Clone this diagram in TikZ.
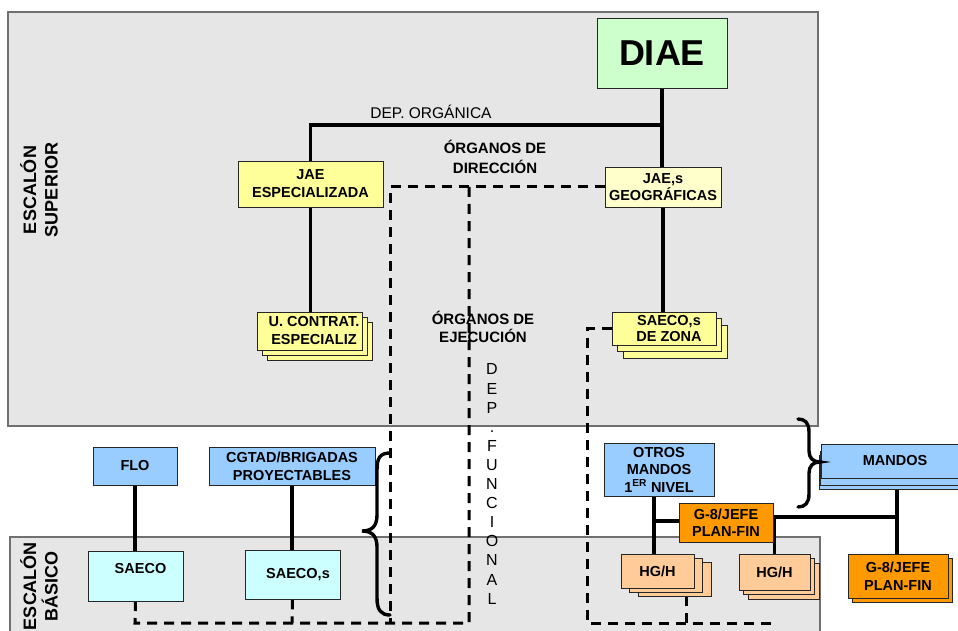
\documentclass[tikz,border=0pt]{standalone}
\usepackage{fontspec}
\setmainfont{Liberation Sans}
\usetikzlibrary{shadows,calc}
\pgfdeclarelayer{panels}
\pgfdeclarelayer{lines}
\pgfsetlayers{panels,lines,main}
\definecolor{panel}{HTML}{E6E6E6}
\definecolor{panelline}{HTML}{707070}
\definecolor{dgreen}{HTML}{CCFFCC}
\definecolor{yelA}{HTML}{FFFF99}
\definecolor{yelB}{HTML}{FFFFCC}
\definecolor{bluA}{HTML}{99CCFF}
\definecolor{cyanA}{HTML}{CCFFFF}
\definecolor{orgA}{HTML}{FF9900}
\definecolor{peachA}{HTML}{FFCC99}
\begin{document}
\begin{tikzpicture}[x=1pt,y=-1pt,
  box/.style={draw=black!85,line width=0.9pt,inner sep=0pt,align=center,
    font=\bfseries\fontsize{14.5}{17.5}\selectfont},
  shd/.style n args={3}{general shadow={fill=#1,draw=black!85,line width=0.9pt,shadow xshift=#2,shadow yshift=#3}},
  conn/.style={line width=3.8pt},
  dsh/.style={line width=3pt,dash pattern=on 10pt off 7pt},
  brc/.style={line width=3.4pt,line cap=round},
  lbl/.style={inner sep=0pt,align=center},
  inl/.style={lbl,font=\bfseries\fontsize{14.5}{17.5}\selectfont}]
\useasboundingbox (0,0) rectangle (958,631);
\clip (0,0) rectangle (958,631);

% panels
\begin{pgfonlayer}{panels}
\fill[white] (0,0) rectangle (958,631);
\draw[draw=panelline,line width=1.2pt,fill=panel] (8,12) rectangle (818,426);
\draw[draw=panelline,line width=1.2pt,fill=panel] (10,537) rectangle (820,660);
\end{pgfonlayer}

% coordinates
\coordinate (hj) at (662,125);
\coordinate (dA) at (390,187);
\coordinate (dAb) at (390,623);
\coordinate (dB) at (469,187);
\coordinate (dBb) at (469,623);
\coordinate (dL) at (135,623);
\coordinate (dS) at (292,623);
\coordinate (dR) at (587,331);
\coordinate (dRb) at (587,623);
\coordinate (dRe) at (775,623);
\coordinate (h1t) at (686,596);
\coordinate (h1b) at (686,623);
\coordinate (jm) at (897,517);

% nodes
\node[box,fill=dgreen,minimum width=130pt,minimum height=70pt,
  font=\bfseries\fontsize{36}{40}\selectfont] (diae) at (662,53) {DIAE};
\node[box,fill=yelA,minimum width=145pt,minimum height=46pt,
  font=\bfseries\fontsize{14.5}{18}\selectfont] (jaeesp) at (310.5,184) {JAE\\ESPECIALIZADA};
\node[box,fill=yelB,minimum width=116pt,minimum height=40pt,
  font=\bfseries\fontsize{14.5}{17}\selectfont] (jaegeo) at (663,187) {JAE,s\\GEOGRÁFICAS};
\node[box,fill=yelA,minimum width=105pt,minimum height=38pt,
  shd={yelA}{10pt}{-10pt},shd={yelA}{5pt}{-5pt},
  label={[inl,font=\bfseries\fontsize{14.5}{18}\selectfont,xshift=4.5pt]center:U. CONTRAT.\\ESPECIALIZ}] (ucon) at (309.5,331) {};
\node[box,fill=yelA,minimum width=104pt,minimum height=33pt,
  shd={yelA}{11pt}{-13pt},shd={yelA}{5.5pt}{-6.5pt},
  label={[inl,font=\bfseries\fontsize{14.5}{16}\selectfont,xshift=5pt]center:SAECO,s\\DE ZONA}] (szona) at (664,328.5) {};
\node[box,fill=bluA,minimum width=84pt,minimum height=38pt] (flo) at (135,466) {FLO};
\node[box,fill=bluA,minimum width=166pt,minimum height=38pt,
  font=\bfseries\fontsize{14.5}{18}\selectfont] (cgtad) at (292,466) {CGTAD/BRIGADAS\\PROYECTABLES};
\node[box,fill=cyanA,minimum width=95pt,minimum height=50pt,
  label={[inl,xshift=5pt,yshift=7pt]center:SAECO}] (saeco) at (135.5,576) {};
\node[box,fill=cyanA,minimum width=95pt,minimum height=49pt,
  label={[inl,xshift=5.5pt,yshift=-0.5pt]center:SAECO,s}] (saecos) at (292.5,574.5) {};
\node[box,fill=bluA,minimum width=110pt,minimum height=53pt] (otros) at (659,469.5) {OTROS\\MANDOS\\1\textsuperscript{ER} NIVEL};
\node[box,fill=bluA,minimum width=148pt,minimum height=34pt,
  shd={bluA}{-2pt}{-11pt},shd={bluA}{-1pt}{-7pt}] (mandos) at (895,461) {MANDOS};
\node[box,fill=orgA,minimum width=94pt,minimum height=39pt] (g8a) at (726,522.5) {G-8/JEFE\\PLAN-FIN};
\node[box,fill=orgA,minimum width=100pt,minimum height=44pt,
  shd={orgA}{4.5pt}{-4.5pt}] (g8b) at (898,576) {G-8/JEFE\\PLAN-FIN};
\node[box,fill=peachA,minimum width=73pt,minimum height=34pt,
  shd={peachA}{17pt}{-8pt},shd={peachA}{8.5pt}{-4pt}] (hg1) at (657.5,571) {HG/H};
\node[box,fill=peachA,minimum width=71pt,minimum height=36pt,
  shd={peachA}{9pt}{-9pt},shd={peachA}{4.5pt}{-4.5pt}] (hg2) at (774.5,572) {HG/H};

\coordinate (ob) at ([xshift=-5pt]otros.south);

\begin{pgfonlayer}{lines}
% dashed connectors
\draw[dsh] (jaegeo.west) -- (dA) -- (dAb);
\draw[dsh] (dB) -- (dBb) -- (dL) -- (saeco.south);
\draw[dsh] (saecos.south) -- (dS);
\draw[dsh] (szona.west) -- (szona.west -| dR) -- (dRb) -- (dRe) -- (hg2.south |- dRe);
\draw[dsh] (h1t) -- (h1b);
% solid connectors
\draw[conn] (diae.south) -- (diae.south |- jaegeo.north);
\draw[conn] (hj) -| (jaeesp.north);
\draw[conn] (jaeesp.south) -- (jaeesp.south |- ucon.north);
\draw[conn] (jaegeo.south) -- (jaegeo.south |- szona.north);
\draw[conn] (flo.south) -- (flo.south |- saeco.north);
\draw[conn] (cgtad.south) -- (cgtad.south |- saecos.north);
\draw[conn] (ob) -- (ob |- hg1.north);
\draw[conn] ([yshift=1.5pt]g8a.west) -- ([yshift=1.5pt]g8a.west -| ob);
\draw[conn] ([yshift=5.5pt]g8a.east) -- ([yshift=5.5pt]g8a.east -| jm);
\draw[conn] (mandos.south -| jm) -- (jm) -- (jm |- g8b.north);
\draw[conn] (hg2.north) -- (hg2.north |- jm);
\end{pgfonlayer}

% braces
\draw[brc] (390,453) .. controls (380,453) and (377,458) .. (377,470) -- (377,515)
  .. controls (377,526) and (372,531) .. (362,531)
  .. controls (372,531) and (377,536) .. (377,547) -- (377,598)
  .. controls (377,610) and (381,615) .. (390,615);
\draw[brc] (798,419) .. controls (805,419) and (809,423) .. (809,432) -- (809,451)
  .. controls (809,458) and (813,462) .. (820,462)
  .. controls (813,462) and (809,466) .. (809,473) -- (809,494)
  .. controls (809,503) and (805,507) .. (798,507);

% text labels
\node[lbl,font=\fontsize{15.5}{18}\selectfont] (deporg) at (431,112) {DEP. ORGÁNICA};
\node[lbl,font=\bfseries\fontsize{15}{19.5}\selectfont] (odir) at (495,157) {ÓRGANOS DE\\DIRECCIÓN};
\node[lbl,font=\bfseries\fontsize{15}{18.5}\selectfont] (oeje) at (483,327) {ÓRGANOS DE\\EJECUCIÓN};
\node[lbl,font=\fontsize{16}{19.1}\selectfont] (depfun) at (492,484) {D\\E\\P\\.\\F\\U\\N\\C\\I\\O\\N\\A\\L};
\node[lbl,rotate=90,font=\bfseries\fontsize{18}{21.5}\selectfont] (escsup) at (39,190) {ESCALÓN\\SUPERIOR};
\node[lbl,rotate=90,font=\bfseries\fontsize{18}{21.5}\selectfont] (escbas) at (39,586) {ESCALÓN\\BÁSICO};
\end{tikzpicture}
\end{document}
